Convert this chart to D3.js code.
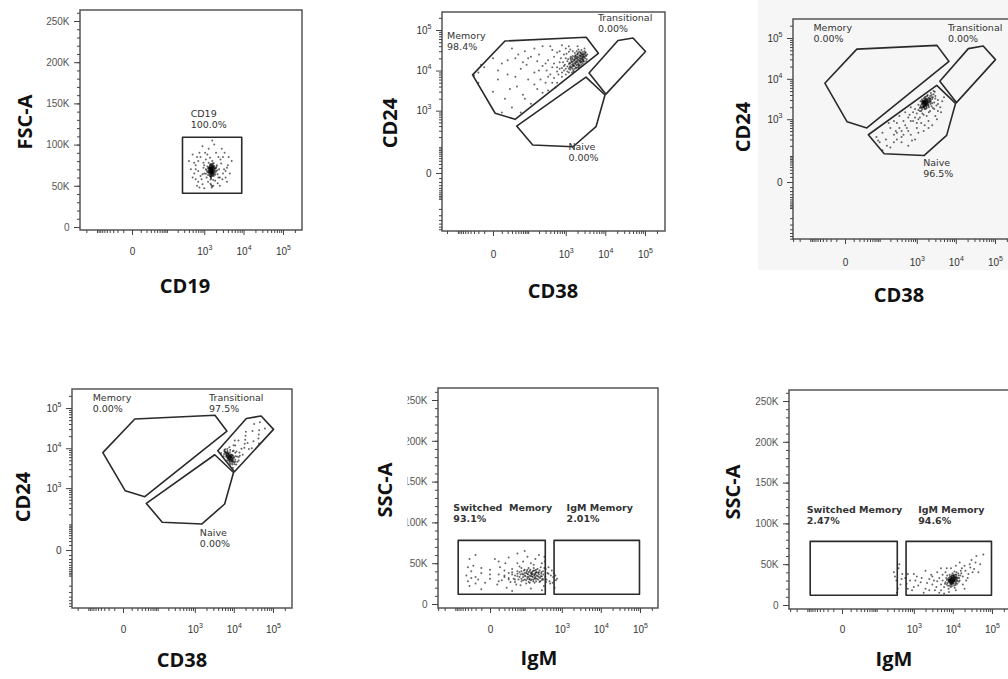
<!DOCTYPE html>
<html>
<head>
<meta charset="utf-8">
<script src="https://cdn.jsdelivr.net/npm/d3@7"></script>
<style>
  body { margin: 0; background: #fff; }
</style>
</head>
<body>
<svg id="chart" width="1008" height="679"></svg>
<script>
// ---------- data ----------
const biexTicks = [0, 1e3, 1e4, 1e5];
const biexMinor = [-900, -800, -700, -600, -500, -400, -300, -200, -100, -90, -80, -70, -60, -50, -40, -30, -20, -10,
  10, 20, 30, 40, 50, 60, 70, 80, 90, 100, 200, 300, 400, 500, 600, 700, 800, 900,
  2000, 3000, 4000, 5000, 6000, 7000, 8000, 9000, 20000, 30000, 40000, 50000, 60000, 70000, 80000, 90000, 200000];
const linTicks = [0, 50000, 100000, 150000, 200000, 250000];
const linTickLabels = ["0", "50K", "100K", "150K", "200K", "250K"];

// gates (data units)
const cd19Gate = [[270, 41000], [9000, 109000]];
const memoryGate = [[-34, 7800], [2, 860], [39, 600], [6700, 26600], [3300, 66000], [15, 53500]];
const transitionalGate = [[3900, 8700], [20900, 55000], [49900, 63500], [103000, 29500], [10400, 2600]];
const naiveGate = [[44, 400], [3260, 6900], [9850, 2480], [5840, 385], [1530, 103], [135, 117]];
const switchedGate = [[-82, 12000], [370, 78000]];
const igmGate = [[630, 12000], [97000, 78000]];

const cd38Names = ["Memory", "Transitional", "Naive"];
const igmNames5 = ["Switched\u00a0 Memory", "IgM Memory"];
const igmNames6 = ["Switched Memory", "IgM Memory"];
const pct1 = ["100.0%"];
const pct2 = ["98.4%", "0.00%", "0.00%"];
const pct3 = ["0.00%", "0.00%", "96.5%"];
const pct4 = ["0.00%", "97.5%", "0.00%"];
const pct5 = ["93.1%", "2.01%"];
const pct6 = ["2.47%", "94.6%"];

// label anchors (data units)
const lab1 = [[444, 134000]];
const lab2 = [[-200, 59000], [6530, 162000], [1170, 81]];
const lab3 = [[-81, 152000], [6300, 152000], [1460, 44]];
const lab4 = [[-74, 151000], [2330, 151000], [1350, 37]];
const lab5 = [[-114, 114000], [1330, 114000]];
const lab6 = [[-104, 112700], [1300, 112700]];

// events
const p1Points = [[1500,68000],[1600,70000],[1400,66000],[1700,72000],[1300,69000],[1800,65000],[1550,74000],[1250,63000],[1900,71000],[1450,61000],
  [2000,68000],[1100,70000],[1650,77000],[1350,73000],[2200,64000],[1200,67000],[1750,62000],[1500,59000],[2100,75000],[1000,65000],
  [1600,80000],[2400,70000],[1400,71500],[1850,68500],[1150,60000],[950,72000],[2300,60000],[1700,57000],[1300,78000],[1550,64500],
  [1500,51000],[1600,49500],[1450,52500],[1550,48000],[1700,50000],
  [500,60000],[600,75000],[700,55000],[800,85000],[450,70000],[650,50000],[750,90000],[900,52000],[550,65000],[3000,85000],
  [3500,60000],[4000,75000],[2800,95000],[2500,50000],[3200,70000],[900,98000],[1200,88000],[2000,90000],[1000,47000],[600,58000],
  [400,80000],[1800,100000],[4500,65000],[800,62000],[2600,82000],[3800,55000],[1100,82000],[700,68000],[5000,80000],[1300,95000],
  [2200,53000],[3000,65000],[1600,105000],[950,78000],[500,88000],
  [1520,67000],[1480,69500],[1620,66500],[1380,68000],[1700,69000],[1580,71000],[1420,64000],[1660,73500],[1340,70500],[1760,66000],
  [1500,72500],[1450,67500],[1550,62500],[1850,72000],[1250,71000],[1950,66000],[1600,75500],[1350,65500],[1720,64000],[1480,76500],
  [1530,69000],[1400,62000],[1800,74000],[1200,73500],[2000,71500],[1650,68000],[1570,65500],[1430,74500],[1300,66500],[1900,63500],
  [1150,68500],[2150,69000],[1750,77500],[1500,61500],[1620,72000],[1380,71500],[1680,63000],[1100,64500],[2050,73000],[1450,57500],
  [700,80000],[850,58000],[1050,90000],[2700,77000],[3300,90000],[600,70000],[2500,60000],[750,48000],[1900,56000],[1250,55000],
  [4200,85000],[3500,68000],[900,64000],[2300,85000],[550,78000],[2900,58000],[1000,75000],[3800,72000],[650,85000],[1400,84000],
  [1510,68500],[1560,67500],[1470,70000],[1610,69000],[1440,68800],[1590,66000],[1530,71500],[1490,65500],[1640,70500],[1410,69500],
  [1680,67000],[1370,67000],[1570,73000],[1460,72500],[1720,70000],[1330,68500],[1620,64500],[1500,63500],[1780,68000],[1290,72000],
  [1540,76000],[1420,76000],[1690,74500],[1360,63500],[1820,70500],[1260,66000],[1600,62000],[1480,60500],[1740,72500],[1390,74000],
  [1650,65500],[1520,65000],[1560,70000],[1450,71000],[1700,66500],[1350,71500],[1610,73500],[1430,66000],[1580,68000],[1500,70800]];

const p2Points = [[1200,9000],[1500,11000],[1800,12000],[2200,14000],[2500,16000],[1000,8000],[1300,13000],[1700,15000],[2000,18000],[2800,19000],
  [900,10000],[1100,12500],[1600,9500],[2100,11500],[1400,17000],[3000,22000],[2400,20000],[1900,21000],[800,9000],[700,11000],
  [1250,15500],[1550,13500],[2300,13000],[2600,25000],[1750,24000],[1150,19000],[950,14000],[650,8000],[3300,17000],[2700,15000],
  [3500,25000],[1450,9000],[600,12000],[850,16000],[1350,22000],[2050,27000],[1050,26000],[500,15000],[750,20000],[1650,19000],
  [-30,7500],[-20,9000],[-20,5000],[-10,12000],[0,3000],[5,6000],[10,15000],[15,2000],[20,8000],[30,1200],
  [40,20000],[45,4000],[60,11000],[70,2500],[80,30000],[100,6000],[120,1500],[150,9000],[180,3500],[200,25000],
  [250,13000],[300,5000],[350,18000],[400,8000],[450,32000],[30,35000],[60,900],[120,22000],[250,2800],[500,6500],
  [600,28000],[400,40000],[1000,35000],[2000,40000],[20,18000],[10,900],[90,14000],[180,17000],[320,10000],[550,3800],
  [3000,35000],[1500,30000],
  [1100,9500],[1300,10500],[1500,12500],[1700,11000],[1900,13500],[2100,15000],[2300,17500],[2500,14000],[2700,18000],[2900,16500],
  [3100,20000],[3400,19000],[1200,14500],[1400,16000],[1600,17500],[1800,19500],[2000,22000],[2200,24000],[2400,28000],[2600,22000],
  [2800,26000],[3200,28000],[1000,11000],[900,13000],[800,11500],[1100,17000],[1300,20000],[1500,23000],[1700,27000],[1900,30000],
  [2100,33000],[1200,29000],[2500,32000],[3000,30000],[1650,13000],[1850,16000],[2050,12000],[2250,20000],[2450,23000],[2650,17000],
  [1350,11500],[1550,15000],[1750,21000],[1950,25000],[2150,18500],[1250,12000],[1450,14000],[2350,15500],[2750,21000],[3300,23000],
  [200,10000],[300,15000],[100,20000],[50,25000],[500,22000],[700,30000],[150,35000],[250,40000],[800,42000],[1200,40000],
  [350,7000],[600,9500],[450,12000],[700,16000],[900,25000],[0,20000],[-15,14000],[5,10000],[40,7000],[70,16000],
  [150,4500],[220,6000],[350,3200],[450,5000],[800,7000],[1000,20000],[1300,33000],[600,5000],[80,2000],[25,3500],
  [1600,13500],[1800,14500],[2000,16000],[2200,17000],[2400,18500],[2600,20000],[2800,23000],[3000,25000],[1400,12000],[1500,16500],
  [1700,18000],[1900,17000],[2100,21000],[2300,22500],[2500,26000],[2700,28500],[1300,15000],[1500,19000],[1800,23000],[2000,25500],
  [2200,29000],[2400,24000],[2600,19000],[2900,21500],[3200,24000],[1200,11000],[1350,18500],[1650,22000],[1950,19500],[2350,27000],
  [2750,24500],[3100,27000],[1450,20500],[1750,16000],[2050,14000],[2450,16500],[2850,17500],[1550,10000],[1850,11500],[2150,13000]];

const p3Points = [[1500,2500],[1800,3000],[2000,2200],[1300,2000],[1600,3500],[2200,2800],[2500,3200],[1200,1600],[1700,1800],[2800,2600],
  [1400,2900],[1900,4000],[2300,4500],[1100,2300],[3000,3800],[1000,1400],[2600,1900],[1500,1300],[2100,3300],[3500,3000],
  [1650,2650],[1850,2450],[1350,3100],[2400,2100],[2700,5000],[2900,4800],[1250,2800],[900,1800],[3200,2200],[2050,1500],
  [800,900],[600,1100],[500,700],[400,500],[300,800],[250,400],[200,600],[150,300],[120,450],[100,250],
  [80,350],[90,280],[400,250],[700,400],[1000,600],[1300,800],[2000,900],[3000,1200],[4000,2000],[5000,3500],
  [500,1500],[350,1200],[700,2000],[250,900],[180,800],[1500,500],[2500,700],[900,300],[600,200],[450,400],
  [300,300],[3500,1600],[4500,2800],[1100,1000],[200,180],[120,150],
  [1500,2600],[1600,2300],[1700,2700],[1400,2400],[1550,2900],[1650,2100],[1750,3100],[1450,2000],[1800,2500],[1350,2650],
  [1900,2900],[2000,3400],[1250,2200],[2100,2600],[1500,3300],[1700,3600],[2200,3800],[1200,1900],[1950,2200],[2300,3000],
  [1600,1800],[2400,4000],[1100,1700],[2600,3500],[1850,3800],[1300,1600],[2500,2500],[2700,4200],[1400,1400],[3000,3300],
  [1600,3000],[1750,2350],[1550,2050],[1850,2750],[2050,2000],[1450,2800],[2150,3200],[1650,2550],[1350,1900],[2250,2400],
  [900,1100],[700,900],[550,600],[450,900],[350,600],[280,500],[650,1300],[800,1500],[1200,1100],[1800,1200],
  [2200,1600],[2800,1800],[3500,2400],[1000,800],[600,500],[400,350],[250,250],[160,200],[300,450],[1600,700],
  [1100,450],[750,280],[2000,600],[3300,1000],[4200,1500],
  [1550,2450],[1620,2620],[1480,2300],[1700,2500],[1580,2750],[1650,2350],[1520,2150],[1750,2800],[1430,2550],[1800,2300],
  [1600,2450],[1680,2900],[1400,2150],[1900,2600],[1500,2850],[1720,2200],[1850,3200],[1350,2400],[2000,2700],[1560,1950],
  [1640,3200],[1460,2700],[1950,3000],[1780,2050],[2100,2900],[1530,2650],[1670,2250],[1420,2750],[1830,2650],[1590,2200],
  [2200,3300],[1250,2000],[1700,3300],[1950,2400],[2300,2700],[1380,1750],[1800,1900],[2400,3500],[1500,2000],[1650,2750]];

const p4Points = [[8150,5950],[9940,4680],[6680,7560],[11530,3920],[5760,9040],[7225,5330],[7980,4730],[6545,6010],[9250,3940],[5640,7190],
  [9200,6650],[10160,5900],[7930,7960],[12380,4640],[6840,9520],[12050,6200],[9410,8380],[7720,10640],[11720,8290],[14300,6520],
  [10860,11770],[16950,6860],[7000,6400],[8600,5200],[7600,6900],[9000,4300],[6200,7900],[8400,7000],[10900,5200],[7400,5800],
  [9600,6400],[6900,8500],[8000,4300],[5700,8400],
  [18600,10230],[13160,15550],[28900,10040],[19460,16210],[22540,13570],[20330,25650],[31740,14950],[42500,17550],[30030,26700],[44400,27840],
  [33000,39870],[62490,30830],[46400,44150],[43680,13160],[15700,9730],[10570,15700],
  [6720,4990],[8200,3930],[5510,6340],[9510,3280],[4750,7580],[8160,5370],[7400,6050],[10460,3980],[6070,7690],[9010,4760],
  [8560,6220],[10960,4600],[7380,7450],[6050,9450],[10920,6300],[8110,9020],[13310,4960],[10900,7750],[9870,8730],[13300,6100],
  [13920,7860],[9850,11950],[19000,12890],[24300,9540],[19900,20370],[43300,22100],
  [7100,5600],[7900,5100],[6600,6500],[8800,5600],[7300,7200],[8300,6200],[9500,5100],[6300,6900],[7700,4600],[8900,6900],
  [10200,4400],[6000,8200],[7500,6600],[8100,5900],[9200,5400],
  [7200,6100],[7800,5500],[8400,5800],[6900,6900],[7600,6300],[8900,5100],[6500,7300],[8200,6600],[7000,5700],[9300,5900],
  [6400,6300],[7400,5000],[8600,4800],[7100,7600],[9800,5600],[8000,6400],[6800,7900],[7700,5300],[8700,6100],[9400,4700]];

const p5Points = [[-45,35000],[-40,28000],[-30,40000],[-35,22000],[-20,33000],[-25,47000],[-15,30000],[-10,38000],[-5,26000],[0,42000],
  [0,31000],[5,55000],[8,24000],[10,36000],[12,45000],[15,29000],[20,33000],[22,50000],[25,20000],[30,38000],
  [35,27000],[40,43000],[45,31000],[50,35000],[55,24000],[60,40000],[65,30000],[70,46000],[75,36000],[80,28000],
  [90,33000],[95,41000],[100,38000],[110,25000],[120,31000],[130,44000],[140,35000],[150,29000],[160,39000],[170,33000],
  [180,48000],[190,26000],[200,36000],[210,42000],[220,31000],[240,38000],[260,27000],[280,45000],[300,34000],[320,40000],
  [340,22000],[360,52000],[400,30000],[450,37000],[500,25000],[600,33000],[700,29000],[120,58000],[60,62000],[250,60000],
  [-10,18000],[40,16000],[150,19000],[300,17000],[90,52000],[200,55000],[30,57000],[85,37000],[105,34000],[115,40000],
  [125,36000],[135,30000],[145,42000],[155,37000],[175,28000],[185,35000],[195,41000],[230,34000],[250,39000],[270,32000],
  [290,37000],[130,27000],[75,23000],[330,30000],[380,43000],[550,41000],[650,20000],
  [60,34000],[70,39000],[80,31000],[90,36000],[100,42000],[110,29000],[120,37000],[130,33000],[140,40000],[150,34000],
  [160,30000],[170,37000],[180,41000],[190,32000],[200,38000],[210,28000],[220,35000],[230,43000],[240,30000],[250,36000],
  [260,41000],[270,28000],[280,34000],[290,39000],[310,31000],[330,36000],[350,44000],[370,33000],[390,27000],[420,38000],
  [100,30000],[140,26000],[200,31000],[180,44000],[250,33000],[300,29000],[160,36000],[120,42000],[220,39000],[80,44000],
  [-40,45000],[-30,32000],[-20,25000],[-10,44000],[0,36000],[10,28000],[20,41000],[30,30000],[40,36000],[50,27000],
  [10,52000],[-35,55000],[60,50000],[150,50000],[300,50000],[450,45000],[480,28000],[520,35000],[580,26000],[620,38000],
  [680,35000],[750,31000],[-20,60000],[100,65000],[350,58000],
  [20,35000],[30,32000],[40,39000],[50,30000],[60,37000],[70,33000],[80,40000],[90,29000],[100,35000],[110,38000],
  [120,33000],[130,39000],[140,31000],[150,38000],[160,34000],[170,40000],[180,30000],[190,36000],[200,33000],[210,39000]];

const p6Points = [[8000,30000],[9000,27000],[10000,33000],[7000,25000],[11000,29000],[8500,35000],[12000,31000],[9500,23000],[7500,32000],[10500,37000],
  [6500,28000],[13000,26000],[9200,30500],[8200,27500],[11500,34000],[6000,22000],[14000,36000],[7800,20000],[10800,24000],[12500,40000],
  [5500,30000],[9800,39000],[15000,30000],[8800,22000],[16000,42000],[7200,36000],[11200,21000],[13500,33000],[10200,28500],[8600,32500],
  [3000,25000],[2500,32000],[2000,20000],[1500,28000],[1200,35000],[1000,22000],[800,30000],[700,38000],[900,18000],[4000,40000],
  [3500,18000],[5000,45000],[20000,48000],[25000,38000],[30000,55000],[40000,60000],[50000,50000],[35000,44000],[22000,30000],[18000,25000],
  [4500,15000],[6000,14000],[2000,42000],[1800,15000],[60000,62000],[28000,46000],[12000,48000],[3000,35000],[1300,24000],[5500,37000],
  [20000,20000],[45000,40000],[2200,27000],[4000,29000],[7000,45000],[1100,30000],[650,26000],[600,33000],[700,20000],[15000,52000],
  [300,40000],[350,30000],[400,45000],[450,25000],[320,35000],[380,20000],[500,38000],[420,50000],[360,15000],[480,32000],
  [8200,31000],[9300,29000],[10300,31500],[8700,28000],[9700,34000],[11300,32000],[7700,29500],[10600,26000],[12300,35000],[9000,25000],
  [8000,33500],[11800,28000],[13200,30000],[7300,27000],[9400,36500],[10900,30500],[12800,33500],[8400,24000],[10000,27000],[11600,37500],
  [7000,30500],[14500,33000],[9900,31000],[8900,33000],[12000,26500],[6800,33000],[10400,35500],[13800,38500],[9600,26500],[11000,41000],
  [15500,36000],[7600,23500],[8300,37000],[12600,29000],[9100,32000],[10700,33500],[11900,24500],[6300,26000],[14200,28500],[16500,39000],
  [5000,25000],[4500,33000],[3800,22000],[3300,30000],[2800,37000],[6500,40000],[18000,35000],[21000,42000],[24000,33000],[27000,50000],
  [32000,40000],[17000,45000],[5000,18000],[8000,16000],[12000,18000],[2500,18000],[1600,33000],[1000,38000],[9000,45000],[38000,52000],
  [9000,30000],[9500,31500],[10000,29500],[8500,30500],[10500,32500],[9200,28000],[9800,33500],[11000,31000],[8800,32000],[10200,30000],
  [9600,27500],[11500,33000],[8300,29000],[10800,34500],[9300,34000],[12000,33000],[8600,26500],[10100,36000],[11300,29500],[9100,35000],
  [7900,31000],[12500,31500],[9700,29000],[10400,28000],[8900,29500],[11100,35500],[9500,25500],[10700,30000],[8100,28500],[12200,37000]];

// ---------- layout ----------
const svg = d3.select("#chart");
const X_CONST = 15, Y_CONST = 30;

// light grey screenshot background behind the third panel
svg.append("rect").attr("x", 758).attr("y", 0).attr("width", 250).attr("height", 270).attr("fill", "#f6f6f6");

const rectPoly = (g) => [[g[0][0], g[0][1]], [g[1][0], g[0][1]], [g[1][0], g[1][1]], [g[0][0], g[1][1]]];

const panels = [
  { frame: [80, 10, 302, 230], x0: 132, x5: 283, lin: true, y0: 227, yTop: 21, xLab: 255,
    xTitle: "CD19", xt: [185, 293], yTitle: "FSC-A", yt: [32, 122],
    points: p1Points, gates: [rectPoly(cd19Gate)], names: ["CD19"], pct: pct1, labels: lab1 },
  { frame: [442, 12, 665, 231], x0: 493, x5: 645, lin: false, y0: 173, yTop: 30, xLab: 258,
    xTitle: "CD38", xt: [553, 298], yTitle: "CD24", yt: [397, 123],
    points: p2Points, gates: [memoryGate, transitionalGate, naiveGate], names: cd38Names, pct: pct2, labels: lab2 },
  { frame: [793, 19, 1015, 239], x0: 845, x5: 995, lin: false, y0: 182, yTop: 38, xLab: 266,
    xTitle: "CD38", xt: [899, 302], yTitle: "CD24", yt: [750, 127],
    points: p3Points, gates: [memoryGate, transitionalGate, naiveGate], names: cd38Names, pct: pct3, labels: lab3 },
  { frame: [72, 389, 292, 608], x0: 123, x5: 273, lin: false, y0: 550, yTop: 408, xLab: 633,
    xTitle: "CD38", xt: [182, 667], yTitle: "CD24", yt: [30, 497],
    points: p4Points, gates: [memoryGate, transitionalGate, naiveGate], names: cd38Names, pct: pct4, labels: lab4 },
  { frame: [438, 388, 658, 608], x0: 490, x5: 640, lin: true, y0: 604, yTop: 400, xLab: 633,
    xTitle: "IgM", xt: [539, 665], yTitle: "SSC-A", yt: [392, 490], clipX: 407.5, bold: true,
    points: p5Points, gates: [rectPoly(switchedGate), rectPoly(igmGate)], names: igmNames5, pct: pct5, labels: lab5 },
  { frame: [789, 390, 1015, 609], x0: 842, x5: 992, lin: true, y0: 605, yTop: 401, xLab: 633,
    xTitle: "IgM", xt: [894, 666], yTitle: "SSC-A", yt: [740, 492], bold: true,
    points: p6Points, gates: [rectPoly(switchedGate), rectPoly(igmGate)], names: igmNames6, pct: pct6, labels: lab6 }
];

function powerLabel(sel) {
  sel.each(function (d) {
    const t = d3.select(this).text(null);
    if (d === 0) { t.text("0"); return; }
    t.append("tspan").text("10");
    t.append("tspan").attr("dy", -5).attr("font-size", 7).text(Math.round(Math.log10(d)));
  });
}

panels.forEach((p, i) => {
  const [L, T, R, B] = p.frame;
  const g = svg.append("g");

  const x = d3.scaleSymlog().constant(X_CONST).domain([0, 1e5]).range([p.x0, p.x5]);
  const y = p.lin
    ? d3.scaleLinear().domain([0, 250000]).range([p.y0, p.yTop])
    : d3.scaleSymlog().constant(Y_CONST).domain([0, 1e5]).range([p.y0, p.yTop]);

  // events
  g.append("g").selectAll("circle").data(p.points).join("circle")
    .attr("cx", d => x(d[0])).attr("cy", d => y(d[1]))
    .attr("r", 1).attr("fill", "#000").attr("opacity", 0.6);

  // gates
  g.append("g").selectAll("polygon").data(p.gates).join("polygon")
    .attr("points", d => d.map(v => [x(v[0]), y(v[1])].join(",")).join(" "))
    .attr("fill", "none").attr("stroke", "#2a2a2a").attr("stroke-width", 1.6)
    .attr("stroke-linejoin", "round");

  // gate labels
  const lab = g.append("g").attr("font-family", "DejaVu Sans, sans-serif").attr("font-size", 9.5)
    .attr("fill", "#333").attr("font-weight", p.bold ? "bold" : "normal");
  p.labels.forEach((a, k) => {
    const t = lab.append("text").attr("x", x(a[0])).attr("y", y(a[1]));
    t.append("tspan").text(p.names[k]);
    t.append("tspan").attr("x", x(a[0])).attr("dy", 11).text(p.pct[k]);
  });

  // frame
  g.append("rect").attr("x", L).attr("y", T).attr("width", R - L).attr("height", B - T)
    .attr("fill", "none").attr("stroke", "#555").attr("stroke-width", 1.5);

  // x axis
  const inX = v => x(v) >= L && x(v) <= R;
  g.append("g").attr("transform", `translate(0,${B})`).attr("color", "#444")
    .call(d3.axisBottom(x).tickValues(biexMinor.filter(inX)).tickSize(3).tickFormat(""))
    .call(a => a.select(".domain").remove());
  g.append("g").attr("transform", `translate(0,${B})`).attr("color", "#444")
    .attr("font-family", "DejaVu Sans, sans-serif").attr("font-size", 9)
    .call(d3.axisBottom(x).tickValues(biexTicks).tickSize(5))
    .call(a => a.select(".domain").remove())
    .call(a => a.selectAll(".tick text").attr("y", p.xLab - B).attr("dy", 0).attr("fill", "#333").call(powerLabel));

  // y axis
  const inY = v => y(v) >= T && y(v) <= B;
  const yMinor = p.lin ? d3.range(0, 270001, 10000).filter(inY) : biexMinor.filter(inY);
  const yWrap = g.append("g");
  if (p.clipX) {
    const clipId = "clip" + i;
    svg.append("clipPath").attr("id", clipId).append("rect")
      .attr("x", p.clipX).attr("y", T - 20).attr("width", L - p.clipX + 5).attr("height", B - T + 40);
    yWrap.attr("clip-path", `url(#${clipId})`);
  }
  yWrap.append("g").attr("transform", `translate(${L},0)`).attr("color", "#444")
    .call(d3.axisLeft(y).tickValues(yMinor).tickSize(3).tickFormat(""))
    .call(a => a.select(".domain").remove());
  const yAxis = p.lin
    ? d3.axisLeft(y).tickValues(linTicks).tickFormat((d, k) => linTickLabels[k])
    : d3.axisLeft(y).tickValues(biexTicks);
  const ya = yWrap.append("g").attr("transform", `translate(${L},0)`).attr("color", "#444")
    .attr("font-family", "DejaVu Sans, sans-serif").attr("font-size", 9)
    .call(yAxis.tickSize(6).tickPadding(4.5))
    .call(a => a.select(".domain").remove());
  ya.selectAll(".tick text").attr("fill", p.lin ? "#555" : "#333");
  if (!p.lin) ya.selectAll(".tick text").call(powerLabel);

  // titles
  g.append("text").attr("x", p.xt[0]).attr("y", p.xt[1]).attr("text-anchor", "middle")
    .attr("font-family", "Open Sans, sans-serif").attr("font-weight", "bold").attr("font-size", 20)
    .attr("fill", "#111").text(p.xTitle);
  g.append("text").attr("transform", `translate(${p.yt[0]},${p.yt[1]}) rotate(-90)`).attr("text-anchor", "middle")
    .attr("font-family", "Open Sans, sans-serif").attr("font-weight", "bold").attr("font-size", 20)
    .attr("fill", "#111").text(p.yTitle);
});
</script>
</body>
</html>
